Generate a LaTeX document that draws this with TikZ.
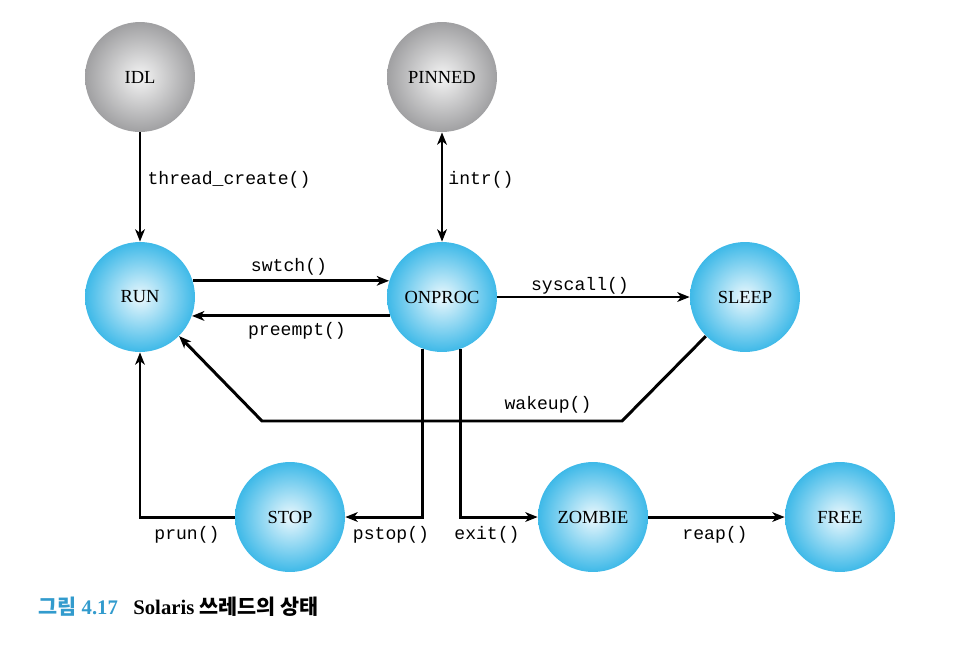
\documentclass[tikz,border=0pt]{standalone}
\usepackage{fontspec}
\setmainfont{Liberation Serif}
\setmonofont{Liberation Mono}
\newfontfamily\cjk{Noto Sans CJK KR}
\usepackage{tikz}
\usetikzlibrary{arrows.meta}
\usetikzlibrary{positioning}
\usepackage{xcolor}
\definecolor{ballblue}{RGB}{62,185,232}
\definecolor{ballcore}{RGB}{235,248,253}
\definecolor{ballgray}{RGB}{160,160,162}
\definecolor{graycore}{RGB}{244,244,244}
\definecolor{capblue}{RGB}{50,155,205}

\begin{document}
\begin{tikzpicture}[x=0.02cm,y=-0.02cm,
  state/.style={circle,minimum size=2.2cm,inner sep=0pt,shading=radial,
    inner color=ballcore,outer color=ballblue,font=\fontsize{10.5}{12}\selectfont},
  idle/.style={state,inner color=graycore,outer color=ballgray},
  flow/.style={line width=1.7pt,-{Stealth[length=7pt,width=5.5pt,inset=2pt]}},
  call/.style={font=\fontsize{10.3}{12}\selectfont\ttfamily,inner sep=1pt}]
\useasboundingbox (0,0) rectangle (974,646);
\node[idle] (idl) at (140,77) {IDL};
\node[idle] (pinned) at (442,77) {PINNED};
\node[state] (run) at (140,297) {RUN};
\node[state] (onproc) at (442,297) {ONPROC};
\node[state] (sleep) at (745,297) {SLEEP};
\node[state] (stop) at (290,517) {STOP};
\node[state] (zombie) at (593,517) {ZOMBIE};
\node[state] (free) at (840,517) {FREE};
\coordinate (wk1) at (622,421);
\coordinate (wk2) at (262,421);
\draw[flow] (idl) -- (run);
\draw[flow,{Stealth[length=7pt,width=5.5pt,inset=2pt]}-{Stealth[length=7pt,width=5.5pt,inset=2pt]}] (pinned) -- (onproc);
\draw[flow] (run.17) -- (onproc.163);
\draw[flow] (onproc.200) -- (run.-20);
\draw[flow] (onproc) -- (sleep);
\draw[flow] (sleep.225) -- (wk1) -- (wk2) -- (run.-45);
\draw[flow] (onproc.249) |- (stop.east);
\draw[flow] (stop.west) -| (run.south);
\draw[flow] (onproc.290) |- (zombie.west);
\draw[flow] (zombie) -- (free);
\node[call] (l1) at (229,180) {thread\_create()};
\node[call] (l2) at (481,180) {intr()};
\node[call] (l3) at (289,267) {swtch()};
\node[call] (l4) at (297,331) {preempt()};
\node[call] (l5) at (580,286) {syscall()};
\node[call] (l6) at (548,405) {wakeup()};
\node[call] (l7) at (187,535) {prun()};
\node[call] (l8) at (391,535) {pstop()};
\node[call] (l9) at (487,535) {exit()};
\node[call] (l10) at (715,535) {reap()};
\node[anchor=west,inner sep=0pt,text=capblue,font=\fontsize{11.8}{14}\selectfont\bfseries] (fignum) at (38,607) {{\cjk 그림} 4.17};
\node[anchor=west,inner sep=0pt,font=\fontsize{11.8}{14}\selectfont\bfseries] (figtitle) at (133,607) {Solaris {\cjk 쓰레드의 상태}};
\end{tikzpicture}
\end{document}
